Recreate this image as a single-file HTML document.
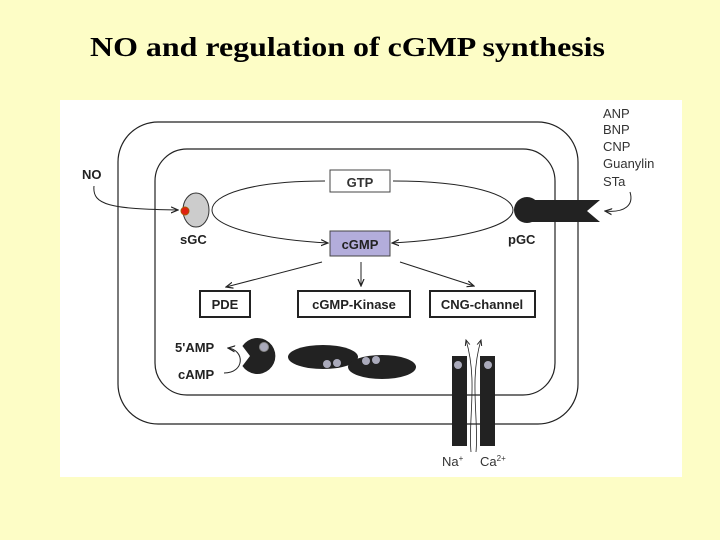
<!DOCTYPE html>
<html><head><style>
body{margin:0;background:#fdfdc6;width:720px;height:540px;overflow:hidden}
svg{position:absolute;left:0;top:0}
</style></head><body>
<svg width="720" height="540" viewBox="0 0 720 540" font-family="Liberation Sans, sans-serif">
<defs><marker id="a" markerWidth="8" markerHeight="8" refX="7" refY="4" orient="auto"><path d="M0,1 L7,4 L0,7" fill="none" stroke="#222" stroke-width="1.2"/></marker></defs>
<text x="90" y="56" font-family="Liberation Serif, serif" font-weight="bold" font-size="27" textLength="515" lengthAdjust="spacingAndGlyphs">NO and regulation of cGMP synthesis</text>
<rect x="60" y="100" width="622" height="377" fill="#fff"/>
<rect x="118" y="122" width="460" height="302" rx="40" fill="none" stroke="#222" stroke-width="1.2"/>
<rect x="155" y="149" width="400" height="246" rx="32" fill="none" stroke="#222" stroke-width="1.2"/>
<path d="M325,181 C250,181 212,195 212,210 C212,228 270,240 328,243" fill="none" stroke="#222" marker-end="url(#a)"/>
<path d="M393,181 C470,181 513,195 513,210 C513,228 450,240 392,243" fill="none" stroke="#222" marker-end="url(#a)"/>
<rect x="330" y="170" width="60" height="22" fill="#fff" stroke="#444"/>
<text x="360" y="187" text-anchor="middle" font-size="13" font-weight="bold" fill="#333">GTP</text>
<rect x="330" y="231" width="60" height="25" fill="#b3addb" stroke="#444"/>
<text x="360" y="249" text-anchor="middle" font-size="13" font-weight="bold" fill="#222">cGMP</text>
<ellipse cx="196" cy="210" rx="13" ry="17" fill="#ccc" stroke="#333"/>
<circle cx="185" cy="211" r="4" fill="#e02010" stroke="#a50"/>
<text x="180" y="244" font-size="13" font-weight="bold" fill="#222">sGC</text>
<text x="82" y="179" font-size="13" font-weight="bold" fill="#222">NO</text>
<path d="M94,186 C92,205 110,209 178,210" fill="none" stroke="#222" marker-end="url(#a)"/>
<circle cx="527" cy="210" r="13" fill="#222"/>
<path d="M527,200 L600,200 L587,211 L600,222 L527,222Z" fill="#222"/>
<text x="508" y="244" font-size="13" font-weight="bold" fill="#222">pGC</text>
<text font-size="13" fill="#333"><tspan x="603" y="118">ANP</tspan><tspan x="603" y="134">BNP</tspan><tspan x="603" y="151">CNP</tspan><tspan x="603" y="168">Guanylin</tspan><tspan x="603" y="186">STa</tspan></text>
<path d="M630,192 C634,205 625,213 605,211" fill="none" stroke="#222" marker-end="url(#a)"/>
<line x1="322" y1="262" x2="226" y2="287" stroke="#222" marker-end="url(#a)"/>
<line x1="361" y1="262" x2="361" y2="286" stroke="#222" marker-end="url(#a)"/>
<line x1="400" y1="262" x2="474" y2="286" stroke="#222" marker-end="url(#a)"/>
<rect x="200" y="291" width="50" height="26" fill="#fff" stroke="#222" stroke-width="2"/>
<text x="225" y="309" text-anchor="middle" font-size="13" font-weight="bold" fill="#222">PDE</text>
<rect x="298" y="291" width="112" height="26" fill="#fff" stroke="#222" stroke-width="2"/>
<text x="354" y="309" text-anchor="middle" font-size="13" font-weight="bold" fill="#222">cGMP-Kinase</text>
<rect x="430" y="291" width="105" height="26" fill="#fff" stroke="#222" stroke-width="2"/>
<text x="482" y="309" text-anchor="middle" font-size="13" font-weight="bold" fill="#222">CNG-channel</text>
<path d="M242.4,346 A18,18 0 1 1 242.4,366 L250,356 Z" fill="#222"/>
<circle cx="264" cy="347" r="4.5" fill="#aab" stroke="#888"/>
<text x="175" y="352" font-size="13" font-weight="bold" fill="#222">5'AMP</text>
<text x="178" y="379" font-size="13" font-weight="bold" fill="#222">cAMP</text>
<path d="M224,373 C245,373 245,350 228,348" fill="none" stroke="#222" marker-end="url(#a)"/>
<ellipse cx="323" cy="357" rx="35" ry="12" fill="#222"/>
<ellipse cx="382" cy="367" rx="34" ry="12" fill="#222"/>
<circle cx="327" cy="364" r="4" fill="#aab"/><circle cx="337" cy="363" r="4" fill="#aab"/>
<circle cx="366" cy="361" r="4" fill="#aab"/><circle cx="376" cy="360" r="4" fill="#aab"/>
<rect x="452" y="356" width="15" height="90" fill="#222"/>
<rect x="480" y="356" width="15" height="90" fill="#222"/>
<circle cx="458" cy="365" r="4" fill="#aab"/><circle cx="488" cy="365" r="4" fill="#aab"/>
<path d="M471,452 C468,420 478,380 466,340" fill="none" stroke="#222" stroke-width="0.8" marker-end="url(#a)"/>
<path d="M476,452 C479,420 469,380 481,340" fill="none" stroke="#222" stroke-width="0.8" marker-end="url(#a)"/>
<text x="442" y="466" font-size="13" fill="#333">Na<tspan font-size="8" dy="-5">+</tspan></text>
<text x="480" y="466" font-size="13" fill="#333">Ca<tspan font-size="8" dy="-5">2+</tspan></text>
</svg>
</body></html>
